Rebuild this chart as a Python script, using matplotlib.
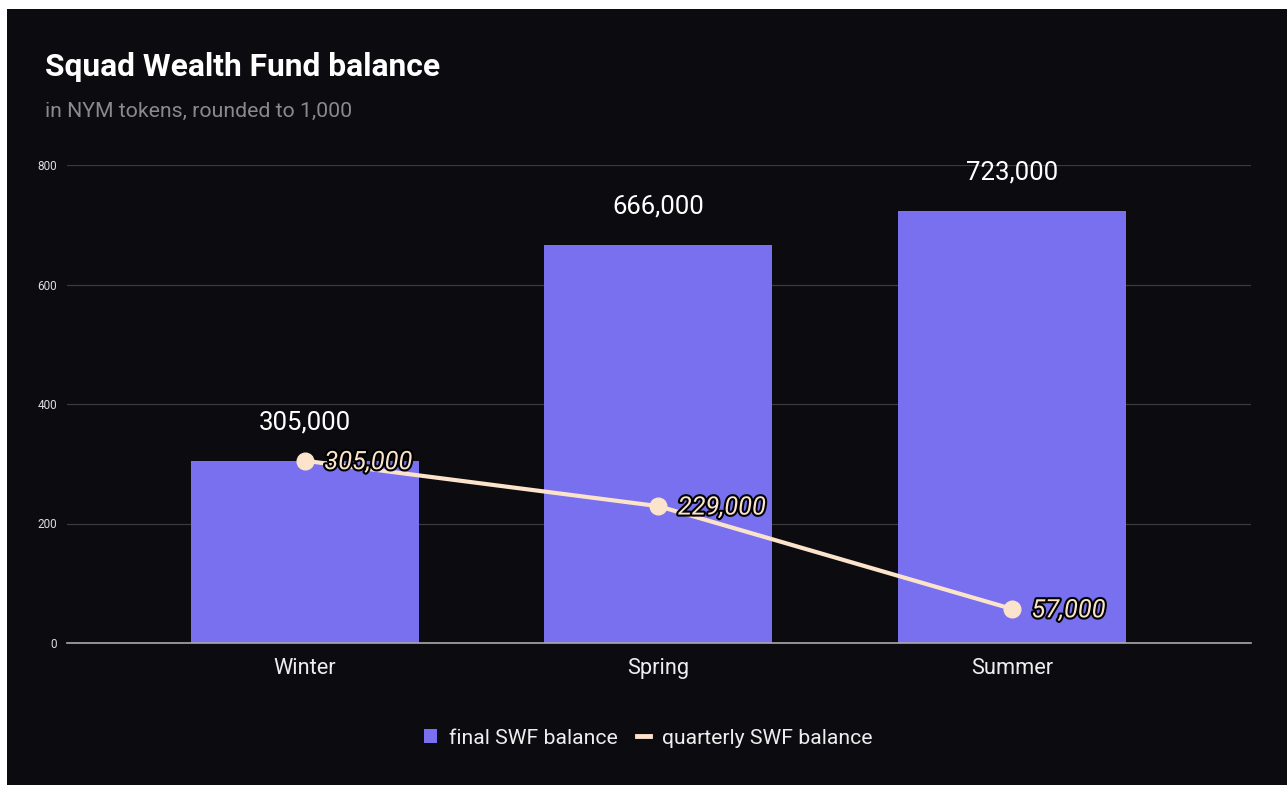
import matplotlib
matplotlib.use("Agg")
import matplotlib.pyplot as plt
import matplotlib.patheffects as pe
from matplotlib.lines import Line2D
from matplotlib.patches import Patch

plt.rcParams['font.family'] = ['Roboto', 'DejaVu Sans']

categories = ["Winter", "Spring", "Summer"]
final_balance = [305, 666, 723]        # thousands of NYM
quarterly_balance = [305, 229, 57]     # thousands of NYM
final_labels = ["305,000", "666,000", "723,000"]
quarterly_labels = ["305,000", "229,000", "57,000"]
yticks = [0, 200, 400, 600, 800]

BG = "#0c0c10"
BAR = "#7870ee"
LINE = "#fce3cc"

W, H = 1287, 785
fig = plt.figure(figsize=(W / 100, H / 100), dpi=100)
fig.patch.set_facecolor("white")
# dark panel (white strip at top and left)
fig.add_artist(plt.Rectangle((7 / W, 0), 1, 1 - 9 / H, transform=fig.transFigure,
                             facecolor=BG, edgecolor="none", zorder=0))

ax = fig.add_axes([67 / W, 1 - 643 / H, (1251 - 67) / W, (643 - 165) / H])
ax.set_facecolor(BG)
x = list(range(len(categories)))
ax.bar(x, final_balance, width=0.645, color=BAR, zorder=2)
ax.plot(x, quarterly_balance, color=LINE, lw=3, marker="o", markersize=12, zorder=4,
        solid_capstyle="round")

for xi, v, lab in zip(x, final_balance, final_labels):
    ax.annotate(lab, (xi, v), xytext=(0, 19), textcoords="offset points",
                ha="center", va="bottom", color="white", fontsize=18.5, zorder=5)
for xi, v, lab in zip(x, quarterly_balance, quarterly_labels):
    ax.annotate(lab, (xi, v), xytext=(14, -1), textcoords="offset points",
                ha="left", va="center", color=LINE, fontsize=18.3, fontstyle="italic",
                zorder=6, path_effects=[pe.withStroke(linewidth=3, foreground="black")])

ax.set_xlim(-0.673, 2.676)
ax.set_ylim(0, 800)
ax.set_yticks(yticks)
ax.set_yticklabels([str(t) for t in yticks], color="#dddddd", fontsize=8.5)
ax.set_xticks(x)
ax.set_xticklabels(categories, color="#eeeeee", fontsize=15.7)
ax.tick_params(axis="y", length=0, pad=7)
ax.tick_params(axis="x", length=0, pad=11)
ax.grid(axis="y", color="#3a3a3f", lw=0.9, zorder=1)
for s in ["top", "right", "left"]:
    ax.spines[s].set_visible(False)
ax.spines["bottom"].set_color("#aaaaaa")
ax.spines["bottom"].set_linewidth(1.2)
ax.spines["bottom"].set_zorder(3)

fig.text(45 / W, 1 - 67 / H, "Squad Wealth Fund balance", color="white", fontsize=22.9,
         fontweight="bold", va="center", ha="left")
fig.text(45 / W, 1 - 111 / H, "in NYM tokens, rounded to 1,000", color="#8a8a8e",
         fontsize=15.3, va="center", ha="left")

handles = [Patch(facecolor=BAR, edgecolor="none"),
           Line2D([0], [0], color=LINE, lw=3.5)]
leg = fig.legend(handles, ["final SWF balance", "quarterly SWF balance"],
                 loc="center", bbox_to_anchor=(648 / W, 1 - 738 / H), ncol=2,
                 frameon=False, fontsize=15.2, handlelength=0.65, handleheight=0.65,
                 handletextpad=0.55, columnspacing=0.9)
for t in leg.get_texts():
    t.set_color("#eeeeee")

fig.savefig("out.png", dpi=100, facecolor=fig.get_facecolor())
